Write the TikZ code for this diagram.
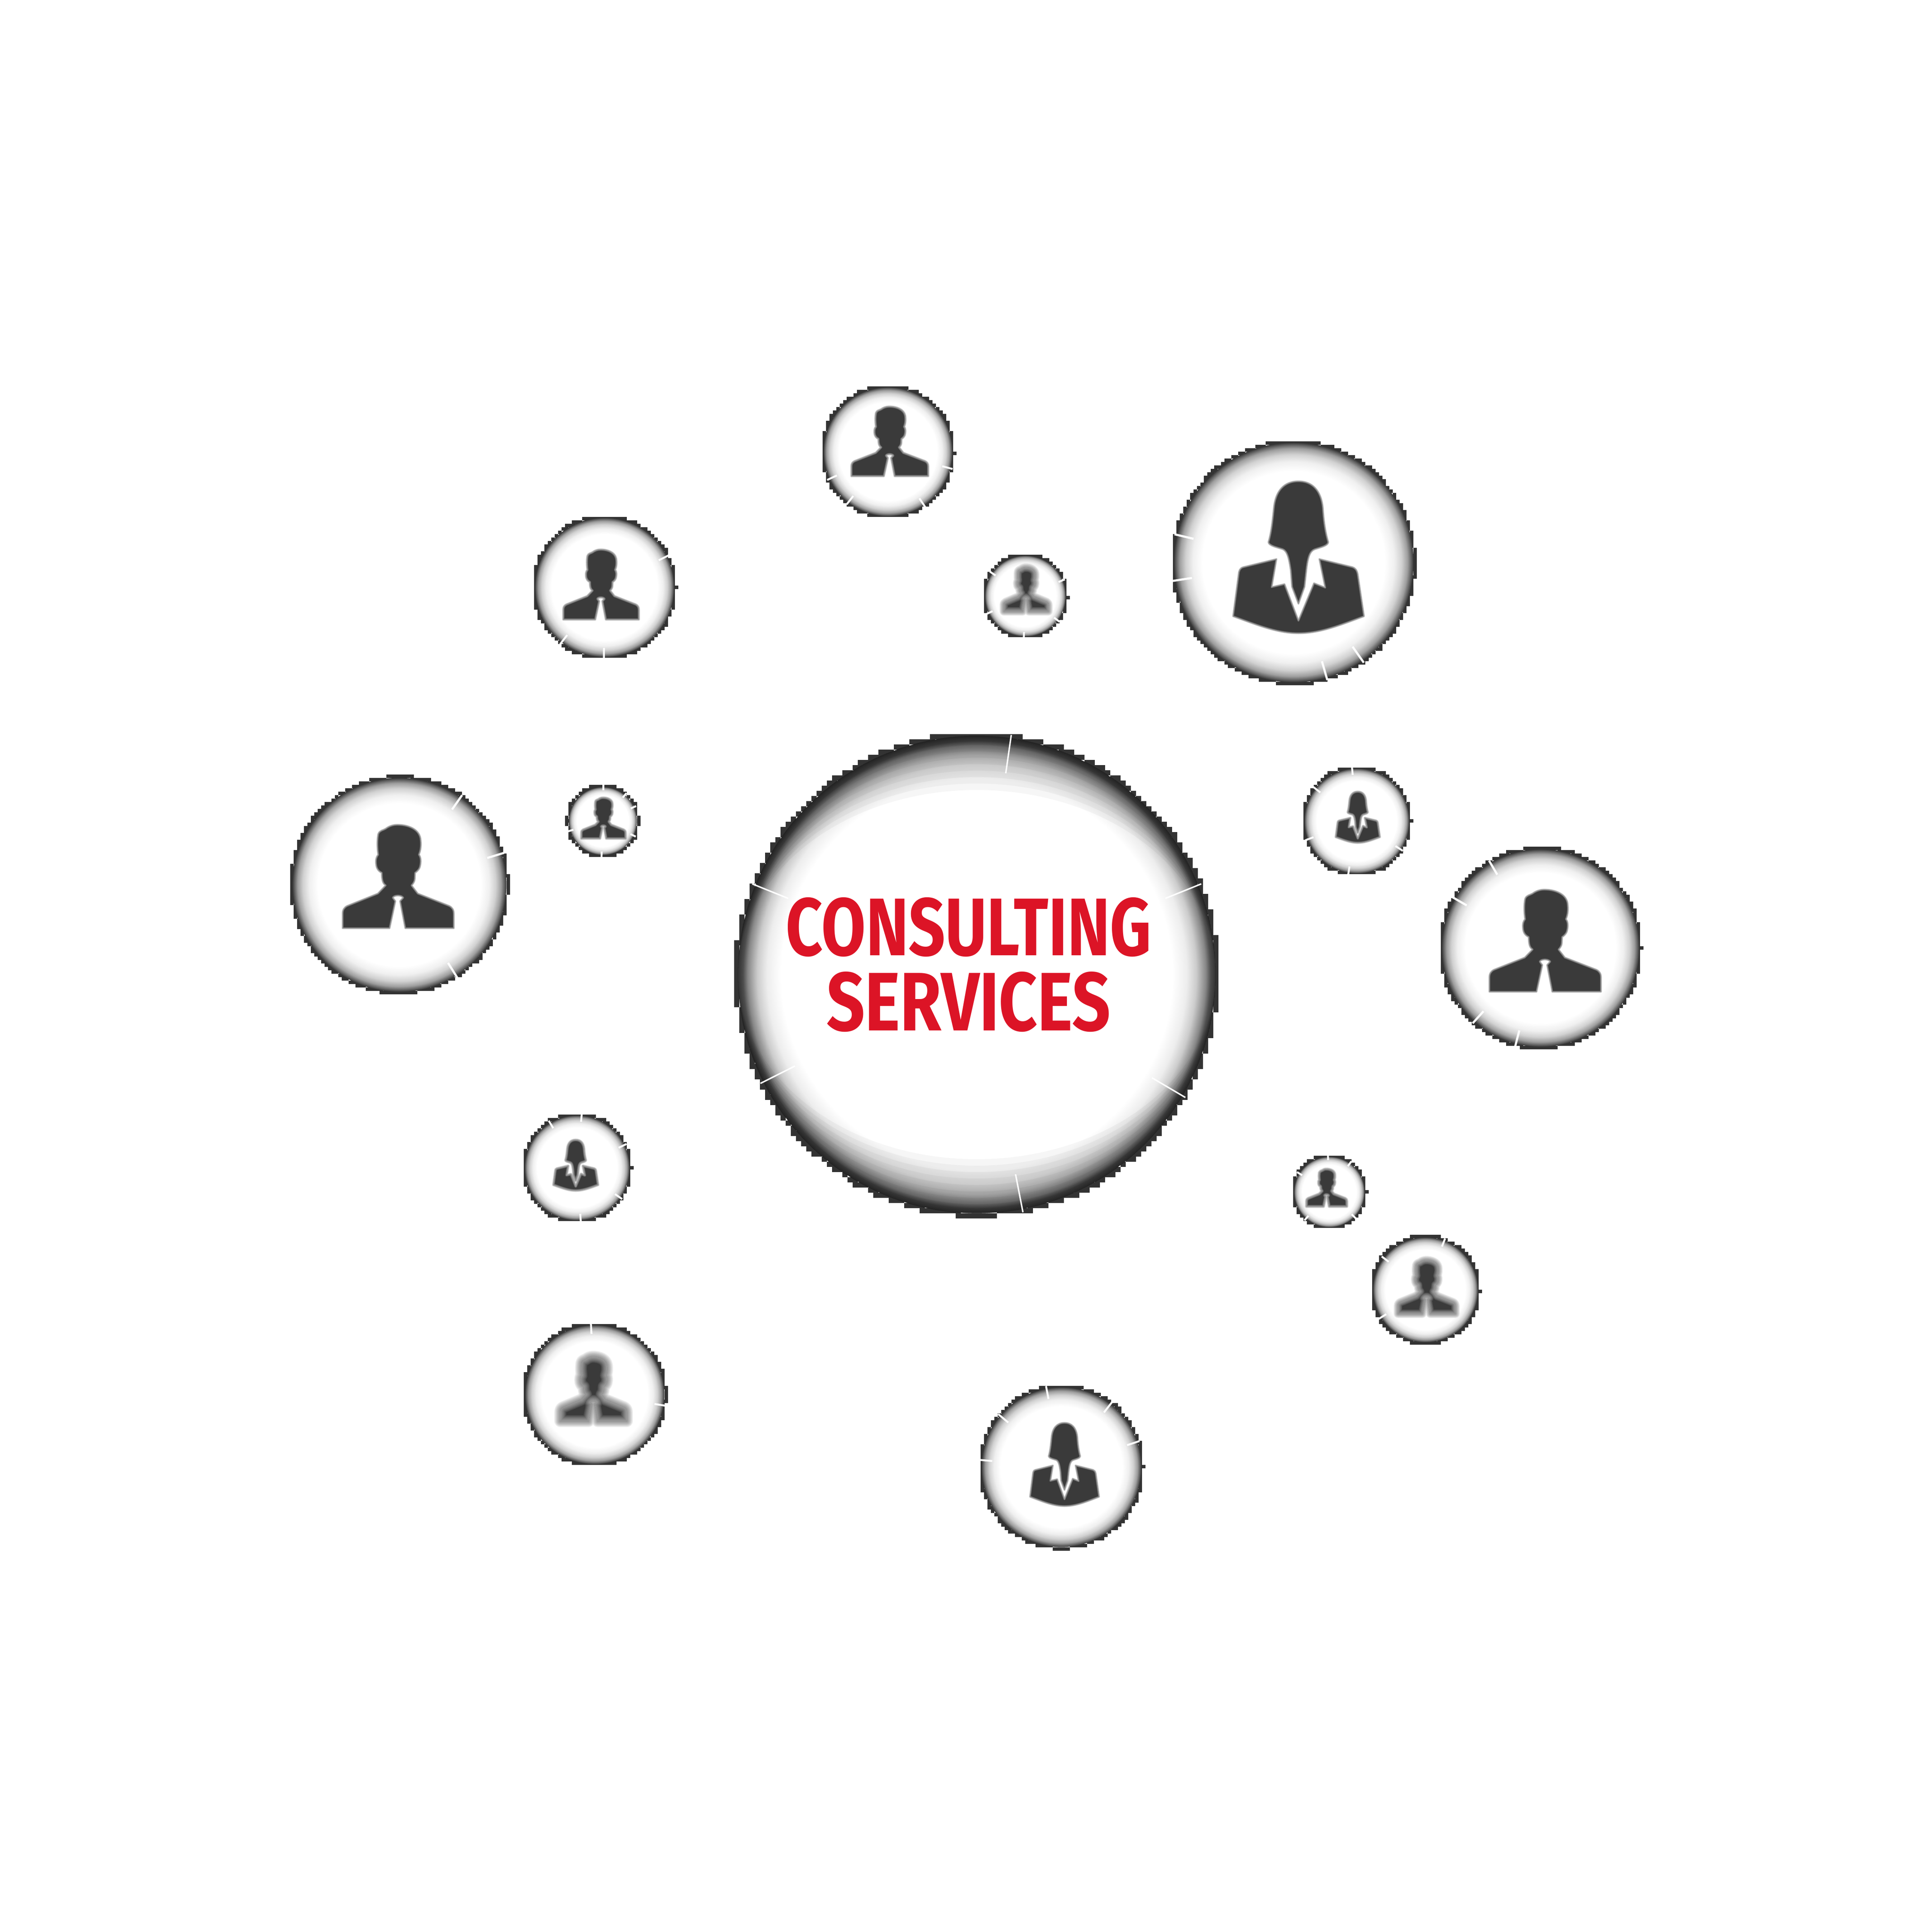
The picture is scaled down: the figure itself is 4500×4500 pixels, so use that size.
\documentclass[tikz,border=0pt]{standalone}
\usepackage{fontspec}
\usepackage{graphicx}
\setmainfont{Fira Sans}
\definecolor{ico}{HTML}{3A3A3A}
\definecolor{ringc}{HTML}{333333}
\definecolor{redt}{HTML}{DC1426}
\pgfdeclareradialshading{bubs}{\pgfpointorigin}{color(0bp)=(white); color(19bp)=(white); color(21bp)=(white!94!black); color(22.5bp)=(white!82!black); color(23.75bp)=(white!62!black); color(24.5bp)=(white!38!black); color(25bp)=(ringc); color(50bp)=(ringc)}
\pgfdeclareradialshading{bubb}{\pgfpointorigin}{color(0bp)=(white); color(20.5bp)=(white); color(22bp)=(white!93!black); color(23bp)=(white!80!black); color(24bp)=(white!53!black); color(24.5bp)=(white!30!black); color(25bp)=(ringc); color(50bp)=(ringc)}
\newcommand{\manpath}{(755,385) .. controls (820,385) and (890,410) .. (902,470) .. controls (908,510) and (905,545) .. (892,575) .. controls (905,590) and (908,620) .. (898,655) .. controls (890,675) and (875,685) .. (868,690) -- (866,730) .. controls (865,745) and (855,760) .. (845,770) -- (885,822) -- (1085,900) .. controls (1105,910) and (1115,925) .. (1115,950) -- (1115,1042) -- (805,1042) -- (772,870) -- (792,848) .. controls (780,830) and (735,830) .. (725,848) -- (742,870) -- (705,1042) -- (405,1042) -- (405,950) .. controls (405,925) and (415,910) .. (435,900) -- (630,822) -- (680,770) .. controls (665,760) and (655,745) .. (655,690) .. controls (635,680) and (620,665) .. (618,630) .. controls (616,605) and (620,590) .. (632,575) .. controls (625,530) and (625,480) .. (632,445) .. controls (640,420) and (665,420) .. (680,410) .. controls (700,395) and (725,385) .. (755,385) -- cycle}
\newcommand{\womanhair}{(778,290) .. controls (700,290) and (650,340) .. (640,440) .. controls (632,520) and (625,580) .. (610,630) .. controls (610,650) and (660,660) .. (690,670) .. controls (715,680) and (725,720) .. (735,790) -- (742,880) -- (778,975) -- (812,880) -- (822,790) .. controls (830,720) and (840,680) .. (870,670) .. controls (900,660) and (945,650) .. (945,630) .. controls (930,580) and (920,520) .. (915,440) .. controls (905,340) and (855,290) .. (778,290) -- cycle}
\newcommand{\womanbody}{(655,725) -- (470,770) .. controls (450,775) and (445,790) .. (443,810) -- (412,1045) .. controls (550,1095) and (660,1140) .. (778,1140) .. controls (900,1140) and (1010,1095) .. (1145,1045) -- (1110,810) .. controls (1105,785) and (1095,775) .. (1080,770) -- (895,725) -- (928,885) -- (865,860) -- (778,1070) -- (700,865) -- (628,882) -- cycle}
\newcommand{\softfill}[2]{% path, blur half-width
  \foreach \w in {8,7,...,1}{
    \path[draw=ico,draw opacity=.083,line width=#2*\w*0.0025cm,line join=round] #1;
  }
  \fill[ico] #1;
  \begin{scope}
    \clip #1;
    \foreach \w in {8,7,...,1}{
      \path[draw=white,draw opacity=.083,line width=#2*\w*0.0025cm,line join=round] #1;
    }
  \end{scope}
}
\newcommand{\manicon}[5]{%
  \begin{scope}[shift={(#1,#3)},xscale={(#2-#1)/710},yscale={(#4-#3)/657},shift={(-405,-385)}]
    \softfill{\manpath}{#5}
  \end{scope}}
\newcommand{\womanicon}[5]{%
  \begin{scope}[shift={(#1,#3)},xscale={(#2-#1)/733},yscale={(#4-#3)/850},shift={(-412,-290)}]
    \softfill{\womanbody}{#5}
    \softfill{\womanhair}{#5}
  \end{scope}}
% cx cy R cell shading ticks
\newcommand{\bubbledisc}[5]{%
  \pgfmathsetmacro\dth{28.6*#4/#3}
  \pgfmathtruncatemacro\nn{ceil(360/\dth)}
  \foreach \i in {1,...,\nn}{
    \pgfmathsetmacro\aa{\i/\nn*360}
    \pgfmathsetmacro\gx{round((#1+(#3-#4/2)*cos(\aa))/#4)*#4}
    \pgfmathsetmacro\gy{round((#2+(#3-#4/2)*sin(\aa))/#4)*#4}
    \fill[ringc] (\gx-#4/2,\gy-#4/2) rectangle (\gx+#4/2,\gy+#4/2);
  }
  \pgfmathsetmacro\rd{#3-0.7*#4}
  \shade[shading=#5] (#1,#2) circle[radius=\rd*0.01cm];
}
\newcommand{\bubbleticks}[5]{% cx cy R ticks width
  \pgfmathsetmacro\ri{0.84*#3}
  \foreach \t in {#4}{
    \pgfmathsetmacro\tt{0-(\t)}
    \draw[white,line width=#5*0.01cm,opacity=.95,line cap=butt]
      ([shift={(\tt:\ri)}]#1,#2) -- ([shift={(\tt:#3)}]#1,#2);
  }
}
\newcommand{\bubble}[7]{\bubbledisc{#1}{#2}{#3}{#4}{#5}\bubbleticks{#1}{#2}{#3}{#6}{#7}}
\begin{document}
\begin{tikzpicture}[x=0.01cm,y=-0.01cm]
\useasboundingbox (0,0) rectangle (4500,4500);
\fill[white] (0,0) rectangle (4500,4500);
% centre
\bubbledisc{2275}{2270}{564}{12}{bubb}
\begin{scope}
  \clip (2275,2270) circle[radius=5.56cm];
  \foreach \b in {430,445,...,535}{
    \fill[black,opacity=.035,even odd rule] (2275,2270) circle[radius=5.56cm] (2275,2270) ellipse[x radius=5.56cm,y radius=\b*0.01cm];
  }
\end{scope}
\bubbleticks{2275}{2270}{564}{81.8,22,-30.5,-79,206.7,158}{3.5}
\node[inner sep=0,text=redt,font=\bfseries] (consulting) at (2256,2160) {\resizebox{8.5cm}{1.35cm}{CONSULTING}};
\node[inner sep=0,text=redt,font=\bfseries] (services) at (2256,2334) {\resizebox{6.61cm}{1.37cm}{SERVICES}};
% top man
\bubble{2068}{1052}{156}{8}{bubs}{-15,-56,232,205}{4.5}
\manicon{1983}{2162}{947}{1109}{3}
% upper-left man
\bubble{1408}{1368}{168}{8}{bubs}{26.5,-90.5,232}{4.5}
\manicon{1312}{1488}{1280}{1443}{3}
% small blurred
\bubble{2388}{1388}{100}{8}{bubs}{145.5,22.7,205,-37,-92}{4.5}
\manicon{2338}{2442}{1322}{1424}{10}
% large woman
\bubble{3013}{1310}{285}{8}{bubs}{166.7,188.7,-55,-74}{5}
\womanicon{2872}{3177}{1121}{1475}{2.5}
% large man left
\bubble{930}{2061}{255}{8}{bubs}{55,17,-58}{5}
\manicon{798}{1057}{1921}{2162}{2.5}
% tiny man
\bubble{1404}{1912}{85}{8}{bubs}{89,49.5,24,196.7,-25.5,-92}{4.5}
\manicon{1354}{1457}{1858}{1953}{3.5}
% woman right
\bubble{3160}{1912}{128}{8}{bubs}{95,142,200.7,-33,-99}{4.5}
\womanicon{3111}{3214}{1844}{1963}{3}
% man right
\bubble{3588}{2208}{236}{8}{bubs}{120.5,150,228,255.6}{5}
\manicon{3469}{3729}{2072}{2310}{2.5}
% woman left-lower
\bubble{1344}{2720}{128}{8}{bubs}{85,121,25.7,-34.7,-86}{4.5}
\womanicon{1289}{1393}{2655}{2773}{3.5}
% small man right-lower
\bubble{3096}{2776}{88}{8}{bubs}{92,54,148.5,229,-45}{4.5}
\manicon{3043}{3137}{2723}{2810}{4}
% blurred man right-lower
\bubble{3320}{3004}{128}{8}{bubs}{69,142.7,212}{4.5}
\manicon{3256}{3390}{2935}{3060}{10}
% very blurred man lower-left
\bubble{1385}{3248}{168}{8}{bubs}{93,-9}{4.5}
\manicon{1305}{1460}{3160}{3310}{14}
% woman bottom
\bubble{2472}{3417}{192}{8}{bubs}{100.7,52,140,18.4,175}{4.5}
\womanicon{2399}{2560}{3314}{3508}{2.5}
\end{tikzpicture}
\end{document}
